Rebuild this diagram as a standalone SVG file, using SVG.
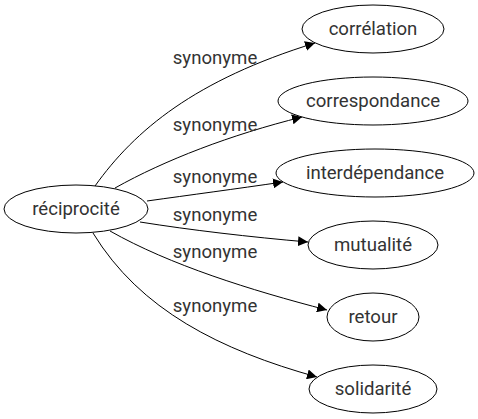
<svg xmlns="http://www.w3.org/2000/svg" width="478" height="419" viewBox="0 0 478 419">
<defs>
<style>
.node ellipse{fill:#fff;stroke:#000;stroke-width:1}
text{font-family:Roboto,"Open Sans","DejaVu Sans",sans-serif;font-size:18.6px;fill:#333}
.node text{text-anchor:middle}
.edge path{fill:none;stroke:#000;stroke-width:1}
</style>
<marker id="ah" viewBox="0 0 10 10" refX="10" refY="5" markerWidth="10" markerHeight="10" markerUnits="userSpaceOnUse" orient="auto">
<path d="M0,0 L10,5 L0,10 z" fill="#000"/>
</marker>
</defs>
<rect width="478" height="419" fill="#fff"/>
<g id="edges" class="edge">
<path d="M95,186 C135,130 195,80 315,43" marker-end="url(#ah)"/>
<path d="M115,188 C165,160 230,135 302,117" marker-end="url(#ah)"/>
<path d="M147,201 C190,195 235,189 283,182" marker-end="url(#ah)"/>
<path d="M140,222 C190,230 250,237 308,242" marker-end="url(#ah)"/>
<path d="M110,231 C170,265 250,290 327,310" marker-end="url(#ah)"/>
<path d="M93,233 C140,310 220,350 317,377" marker-end="url(#ah)"/>
<text x="215" y="64" text-anchor="middle">synonyme</text>
<text x="215" y="131" text-anchor="middle">synonyme</text>
<text x="215" y="183" text-anchor="middle">synonyme</text>
<text x="215" y="221" text-anchor="middle">synonyme</text>
<text x="215" y="258" text-anchor="middle">synonyme</text>
<text x="215" y="312" text-anchor="middle">synonyme</text>
</g>
<g id="reciprocite" class="node"><ellipse cx="76" cy="209" rx="72" ry="24"/><text x="76" y="215">réciprocité</text></g>
<g id="correlation" class="node"><ellipse cx="373" cy="29" rx="71" ry="24"/><text x="373" y="35">corrélation</text></g>
<g id="correspondance" class="node"><ellipse cx="373" cy="101" rx="95" ry="24"/><text x="373" y="107">correspondance</text></g>
<g id="interdependance" class="node"><ellipse cx="375" cy="173" rx="99" ry="24"/><text x="375" y="179">interdépendance</text></g>
<g id="mutualite" class="node"><ellipse cx="373" cy="245" rx="65" ry="24"/><text x="373" y="251">mutualité</text></g>
<g id="retour" class="node"><ellipse cx="373" cy="317" rx="46" ry="24"/><text x="373" y="323">retour</text></g>
<g id="solidarite" class="node"><ellipse cx="373" cy="389" rx="64" ry="24"/><text x="373" y="395">solidarité</text></g>
</svg>
